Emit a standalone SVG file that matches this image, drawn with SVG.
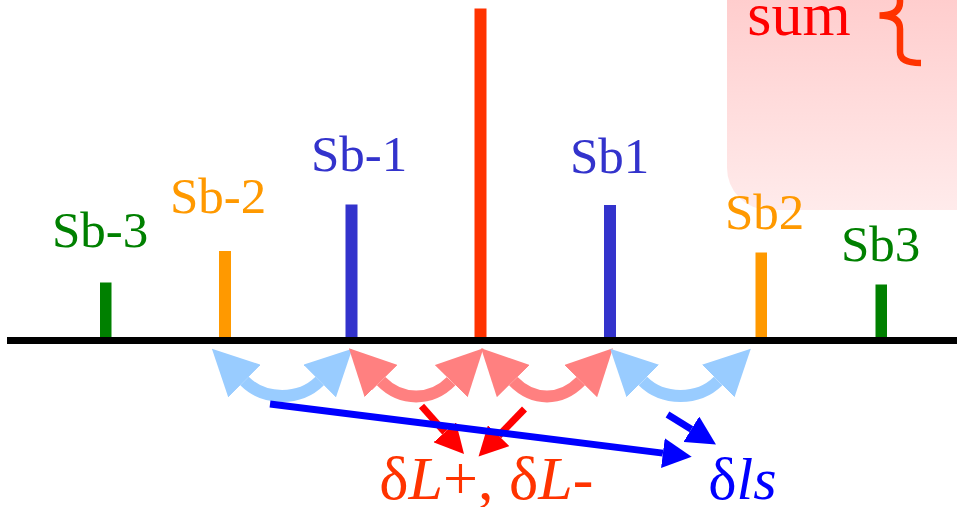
<svg xmlns="http://www.w3.org/2000/svg" width="957" height="507" viewBox="0 0 957 507">
  <defs>
    <linearGradient id="pinkGrad" x1="0" y1="0" x2="0" y2="1">
      <stop offset="0" stop-color="#ffcccc"/>
      <stop offset="1" stop-color="#ffebeb"/>
    </linearGradient>
    <marker id="bigBlue" markerUnits="userSpaceOnUse" viewBox="0 -23 46 46" markerWidth="46" markerHeight="46" refX="0" refY="0" orient="auto-start-reverse">
      <path d="M0,-23 L46,0 L0,23 Z" fill="#99ccff"/>
    </marker>
    <marker id="bigPink" markerUnits="userSpaceOnUse" viewBox="0 -23 46 46" markerWidth="46" markerHeight="46" refX="0" refY="0" orient="auto-start-reverse">
      <path d="M0,-23 L46,0 L0,23 Z" fill="#ff8080"/>
    </marker>
    <marker id="smallRed" markerUnits="userSpaceOnUse" viewBox="0 -15 29 30" markerWidth="29" markerHeight="30" refX="0" refY="0" orient="auto">
      <path d="M0,-15 L29,0 L0,15 Z" fill="#ff0000"/>
    </marker>
    <marker id="smallBlue" markerUnits="userSpaceOnUse" viewBox="0 -15 29 30" markerWidth="29" markerHeight="30" refX="0" refY="0" orient="auto">
      <path d="M0,-15 L29,0 L0,15 Z" fill="#0000ff"/>
    </marker>
  </defs>
  <style>
    .lbl { font-size: 51px; }
    .green { fill: #008000; }
    .orange { fill: #ff9900; }
    .blue { fill: #3333cc; }
    .carrier { fill: #ff3300; }
    .arcB { fill: none; stroke: #99ccff; stroke-width: 12; marker-start: url(#bigBlue); marker-end: url(#bigBlue); }
    .arcP { fill: none; stroke: #ff8080; stroke-width: 12; marker-start: url(#bigPink); marker-end: url(#bigPink); }
    .arrR { fill: none; stroke: #ff0000; stroke-width: 7; marker-end: url(#smallRed); }
    .arrB { fill: none; stroke: #0000ff; stroke-width: 7; marker-end: url(#smallBlue); }
  </style>
  <rect width="957" height="507" fill="#ffffff"/>

  <g id="sum-box">
    <path d="M727,-10 H960 V210 H769 A42,42 0 0 1 727,168 Z" fill="url(#pinkGrad)"/>
    <text x="747.3" y="35" font-family="Liberation Serif, serif" font-size="62" fill="#ff0000">sum</text>
    <path d="M900,-5 V2 Q900,15.5 879.5,15.5 Q900,15.5 900,29 V52 Q900,63 921,63" fill="none" stroke="#ff3300" stroke-width="6.5"/>
  </g>

  <g id="carrier">
    <rect class="carrier" x="474.5" y="8.5" width="12" height="332"/>
  </g>
  <g id="sb-3">
    <rect class="green" x="100" y="282.5" width="11.5" height="58"/>
    <text class="lbl green" font-family="Liberation Serif, serif" x="52" y="247">Sb-3</text>
  </g>
  <g id="sb-2">
    <rect class="orange" x="219" y="251" width="12" height="89"/>
    <text class="lbl orange" font-family="Liberation Serif, serif" x="170" y="212.5">Sb-2</text>
  </g>
  <g id="sb-1">
    <rect class="blue" x="345.5" y="204.5" width="12" height="136"/>
    <text class="lbl blue" font-family="Liberation Serif, serif" x="311" y="171">Sb-1</text>
  </g>
  <g id="sb1">
    <rect class="blue" x="604" y="205" width="12" height="135"/>
    <text class="lbl blue" font-family="Liberation Serif, serif" x="570" y="172.5">Sb1</text>
  </g>
  <g id="sb2">
    <rect class="orange" x="755.5" y="252.5" width="11.5" height="88"/>
    <text class="lbl orange" font-family="Liberation Serif, serif" x="725" y="229">Sb2</text>
  </g>
  <g id="sb3">
    <rect class="green" x="875.5" y="284.5" width="11.5" height="56"/>
    <text class="lbl green" font-family="Liberation Serif, serif" x="841" y="261">Sb3</text>
  </g>

  <g id="axis">
    <rect x="7" y="337" width="950" height="7" fill="#000000"/>
  </g>

  <g id="connectors">
    <path class="arcB" d="M244.5,381.1 C264.5,401 299.7,401 319.7,381.1"/>
    <path class="arcP" d="M381.1,381.1 C401.1,401.5 431.2,401.5 451.2,381.1"/>
    <path class="arcP" d="M513.3,381.1 C533.3,401.5 560.7,401.5 580.7,381.1"/>
    <path class="arcB" d="M642.8,381.1 C662.8,401 698.2,401 718.2,381.1"/>
    <path class="arrR" d="M421.5,406 L444.8,432.3"/>
    <path class="arrR" d="M524.5,409 L498.7,435.7"/>
    <path class="arrB" d="M667.5,414.5 L691.3,429.2"/>
    <path class="arrB" d="M270,404 L662.9,453.1" stroke-width="6.5"/>
  </g>

  <g id="delta-L">
    <text x="379.3" y="498.5" font-family="Liberation Serif, serif" font-size="62" fill="#ff3300">δ<tspan font-style="italic">L</tspan>+, δ<tspan font-style="italic">L</tspan>-</text>
  </g>
  <g id="delta-ls">
    <text x="708.3" y="498.5" font-family="Liberation Serif, serif" font-size="60" fill="#0000ff">δ<tspan font-style="italic">ls</tspan></text>
  </g>
</svg>
